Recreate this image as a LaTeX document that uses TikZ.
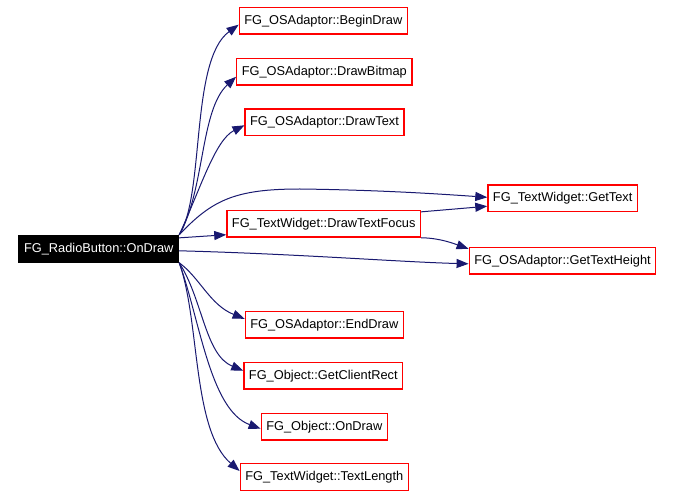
\documentclass[tikz,border=0pt]{standalone}
\usepackage{fontspec}
\setmainfont{Liberation Sans}
\usepackage{tikz}
\usetikzlibrary{arrows.meta}
\usepackage{xcolor}
\definecolor{edgeblue}{HTML}{191970}

\tikzset{
  fn/.style={draw=red,line width=1.4pt,font=\fontsize{12.8}{15}\selectfont,
    inner xsep=5pt,minimum height=26.5pt,text height=9.5pt,text depth=2.5pt},
  rootfn/.style={fn,draw=black,fill=black,text=white},
  call/.style={draw=edgeblue,line width=1pt,
    -{Triangle[length=12pt,width=9pt]}}
}

\begin{document}
\begin{tikzpicture}[x=1pt,y=-1pt]
			\useasboundingbox (0,0) rectangle (673,497);
			% caller
			\node[rootfn] (root) at (98.8,248.8) {FG\_RadioButton::OnDraw};
			% callees
			\node[fn] (begin) at (323.3,20.7) {FG\_OSAdaptor::BeginDraw};
			\node[fn] (bitmap) at (324.3,71.8) {FG\_OSAdaptor::DrawBitmap};
			\node[fn] (text) at (324.5,122.3) {FG\_OSAdaptor::DrawText};
			\node[fn] (gettext) at (562.7,198.3) {FG\_TextWidget::GetText};
			\node[fn] (focus) at (323.7,223.8) {FG\_TextWidget::DrawTextFocus};
			\node[fn] (height) at (562.5,260.8) {FG\_OSAdaptor::GetTextHeight};
			\node[fn] (enddraw) at (324.3,324.8) {FG\_OSAdaptor::EndDraw};
			\node[fn] (clientrect) at (323.3,375.7) {FG\_Object::GetClientRect};
			\node[fn] (objdraw) at (324.3,426.7) {FG\_Object::OnDraw};
			\node[fn] (textlength) at (324.3,477) {FG\_TextWidget::TextLength};
			% calls
			\draw[call] (root.north east) .. controls (205,195) and (190,60) .. ([yshift=-4pt]begin.west);
			\draw[call] (root.north east) .. controls (205,190) and (200,110) .. ([yshift=-5pt]bitmap.west);
			\draw[call] (root.north east) .. controls (200,190) and (215,140) .. ([yshift=-3pt]text.west);
			\draw[call] (root.north east) .. controls (212,200) and (235,189) .. (300,189)
				.. controls (380,190) and (440,194) .. ([yshift=1pt]gettext.west);
			\draw[call] ([yshift=-3pt]root.north east) -- ([yshift=3pt]focus.south west);
			\draw[call] ([yshift=-2pt]focus.north east) -- ([yshift=6pt]gettext.south west);
			\draw[call] (focus.south east) .. controls (440,238) and (455,244) .. ([yshift=-2pt]height.north west);
			\draw[call] ([yshift=-2pt]root.east) .. controls (300,254) and (400,262) .. ([yshift=-3pt]height.west);
			\draw[call] (root.south east) .. controls (200,278) and (210,305) .. ([yshift=6pt]enddraw.west);
			\draw[call] (root.south east) .. controls (203,300) and (205,355) .. ([yshift=5pt]clientrect.west);
			\draw[call] (root.south east) .. controls (200,320) and (210,410) .. ([yshift=-2pt]objdraw.west);
			\draw[call] (root.south east) .. controls (200,320) and (192,430) .. ([yshift=6pt]textlength.west);
		\end{tikzpicture}
\end{document}
